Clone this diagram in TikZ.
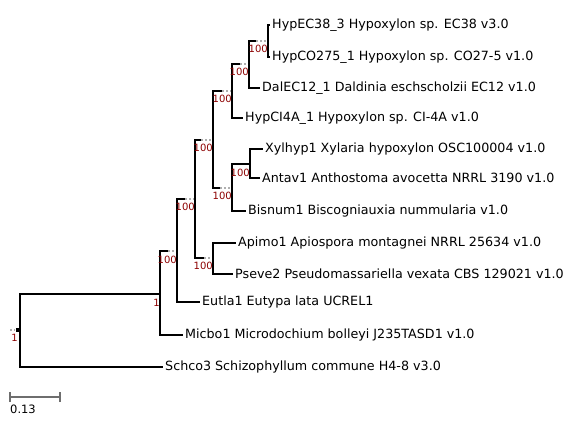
\documentclass[tikz,border=0pt]{standalone}
\usepackage{fontspec}
\setmainfont{DejaVu Sans}
\definecolor{suppred}{RGB}{140,0,0}
\definecolor{dotgray}{RGB}{175,175,175}
\definecolor{bargray}{RGB}{110,110,110}
\begin{document}
\begin{tikzpicture}[x=1pt,y=-1pt,
  br/.style={line width=2pt, line join=miter, line cap=rect, black},
  dots/.style={line width=1.6pt, dotgray, dash pattern=on 1.6pt off 2.6pt},
  leaf/.style={anchor=west, inner xsep=3pt, inner ysep=0pt, font=\fontsize{12.7}{14}\selectfont},
  supp/.style={anchor=east, inner sep=0pt, text=suppred, font=\fontsize{10}{11}\selectfont},
  bar/.style={line width=1.5pt, bargray}]
\useasboundingbox (0,0) rectangle (574,442);
% internal nodes
\coordinate (A) at (20,330);
\coordinate (B) at (160,294);
\coordinate (C) at (177,251);
\coordinate (D) at (195,199);
\coordinate (E) at (213,140);
\coordinate (K) at (213,258);
\coordinate (F) at (232,91);
\coordinate (I) at (232,188);
\coordinate (G) at (249,64);
\coordinate (J) at (250,164);
\coordinate (H) at (268,41);
% ends of solid branch parts
\coordinate (Cs) at (168,251);
\coordinate (Ds) at (185,199);
\coordinate (Es) at (201,140);
\coordinate (Ks) at (204,258);
\coordinate (Fs) at (222,91);
\coordinate (Is) at (220,188);
\coordinate (Gs) at (240,64);
\coordinate (Hs) at (256,41);
% leaves
\node[leaf] (l1) at (269,25) {HypEC38\_3 Hypoxylon sp. EC38 v3.0};
\node[leaf] (l2) at (269,57) {HypCO275\_1 Hypoxylon sp. CO27-5 v1.0};
\node[leaf] (l3) at (259,88) {DalEC12\_1 Daldinia eschscholzii EC12 v1.0};
\node[leaf] (l4) at (242,118) {HypCI4A\_1 Hypoxylon sp. CI-4A v1.0};
\node[leaf] (l5) at (262,149) {Xylhyp1 Xylaria hypoxylon OSC100004 v1.0};
\node[leaf] (l6) at (259,178) {Antav1 Anthostoma avocetta NRRL 3190 v1.0};
\node[leaf] (l7) at (245,211) {Bisnum1 Biscogniauxia nummularia v1.0};
\node[leaf] (l8) at (235,243) {Apimo1 Apiospora montagnei NRRL 25634 v1.0};
\node[leaf] (l9) at (232,274) {Pseve2 Pseudomassariella vexata CBS 129021 v1.0};
\node[leaf] (l10) at (199,302) {Eutla1 Eutypa lata UCREL1};
\node[leaf] (l11) at (182,335) {Micbo1 Microdochium bolleyi J235TASD1 v1.0};
\node[leaf] (l12) at (162,367) {Schco3 Schizophyllum commune H4-8 v3.0};
% branches
\draw[br] (A) |- (B);
\draw[br] (A) |- (l12.west);
\draw[br] (B) |- (Cs); \draw[dots] (Cs) -- (C);
\draw[br] (B) |- (l11.west);
\draw[br] (C) |- (Ds); \draw[dots] (Ds) -- (D);
\draw[br] (C) |- (l10.west);
\draw[br] (D) |- (Es); \draw[dots] (Es) -- (E);
\draw[br] (D) |- (Ks); \draw[dots] (Ks) -- (K);
\draw[br] (K) |- (l8.west);
\draw[br] (K) |- (l9.west);
\draw[br] (E) |- (Fs); \draw[dots] (Fs) -- (F);
\draw[br] (E) |- (Is); \draw[dots] (Is) -- (I);
\draw[br] (I) |- (J);
\draw[br] (I) |- (l7.west);
\draw[br] (J) |- (l5.west);
\draw[br] (J) |- (l6.west);
\draw[br] (F) |- (Gs); \draw[dots] (Gs) -- (G);
\draw[br] (F) |- (l4.west);
\draw[br] (G) |- (Hs); \draw[dots] (Hs) -- (H);
\draw[br] (G) |- (l3.west);
\draw[br] (H) |- (l1.west);
\draw[br] (H) |- (l2.west);
% root marker
\coordinate (r0) at (10,330);
\node[fill=black, inner sep=0pt, minimum size=4pt] (rootsq) at (17.5,330) {};
\draw[dots] (r0) -- (rootsq.west);
% support values
\node[supp] (sA) at (18,338) {1};
\node[supp] (sB) at (160,303) {1};
\node[supp] (sC) at (177,260) {100};
\node[supp] (sD) at (195,207) {100};
\node[supp] (sE) at (213,148) {100};
\node[supp] (sK) at (213,266) {100};
\node[supp] (sF) at (232,99) {100};
\node[supp] (sI) at (232,196) {100};
\node[supp] (sG) at (249,72) {100};
\node[supp] (sJ) at (250,173) {100};
\node[supp] (sH) at (268,49) {100};
% scale bar
\coordinate (b0) at (10,397);
\coordinate (b1) at (60,397);
\draw[bar] (b0) -- (b1);
\draw[bar] ([yshift=-5pt]b0) -- ([yshift=5pt]b0);
\draw[bar] ([yshift=-5pt]b1) -- ([yshift=5pt]b1);
\node[anchor=west, inner sep=0pt, font=\fontsize{11.5}{13}\selectfont] (blab) at (10,409) {0.13};
\end{tikzpicture}
\end{document}
